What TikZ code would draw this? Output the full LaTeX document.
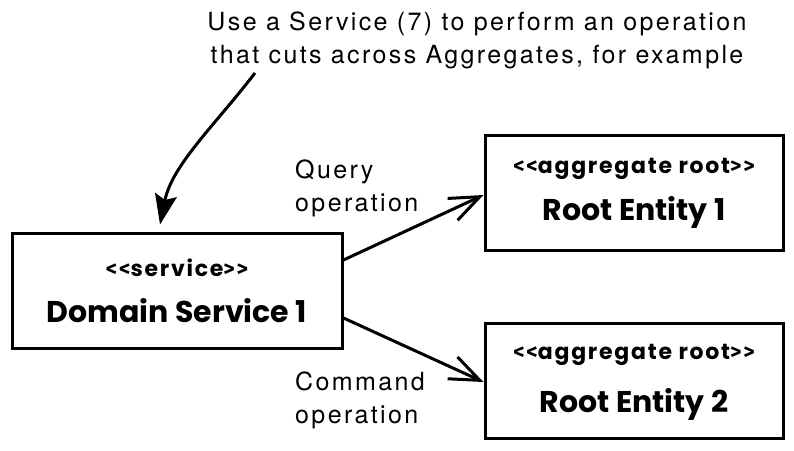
\documentclass[tikz,border=0pt]{standalone}
\usepackage{fontspec}
\setmainfont{TeX Gyre Heros}[LetterSpace=9.5]
\newfontfamily\comic{Poppins}
\newfontfamily\comicw{Poppins}[LetterSpace=8]
\newfontfamily\brk{Fira Sans}[LetterSpace=8]
\usetikzlibrary{arrows.meta}
\newcommand{\lt}{{\brk\bfseries<}}
\newcommand{\gt}{{\brk\bfseries>}}
\tikzset{
  box/.style={draw, line width=3pt, minimum width=#1, minimum height=115pt, inner sep=0pt, align=center},
  stereo/.style={font=\comicw\bfseries\fontsize{22}{24}\selectfont},
  big/.style={font=\comic\bfseries\fontsize{30}{36}\selectfont},
  lbl/.style={font=\fontsize{25}{33}\selectfont, align=left, inner sep=0pt, anchor=north west},
  conn/.style={line width=3pt, -{Straight Barb[length=30pt,width=24pt,line width=3pt]}},
  callout/.style={line width=3pt, -{Stealth[length=30pt,width=22pt,inset=5pt]}}
}
\begin{document}
\begin{tikzpicture}[x=1pt,y=-1pt]
\useasboundingbox (0,0) rectangle (794,450);
\node[box=330pt] (ds) at (177,290.5) {};
\node[box=298pt] (re1) at (634,192.5) {};
\node[box=298pt] (re2) at (634,380.5) {};
\node[stereo] (ds-s) at (177,268) {\lt\lt service\gt\gt};
\node[big, anchor=base] (ds-n) at (177,322) {Domain Service 1};
\node[stereo] (re1-s) at (634,169) {\lt\lt aggregate root\gt\gt};
\node[big, anchor=base] (re1-n) at (634,220) {Root Entity 1};
\node[stereo] (re2-s) at (634,355) {\lt\lt aggregate root\gt\gt};
\node[big, anchor=base] (re2-n) at (634,412) {Root Entity 2};
\node[lbl] (q) at (295,160) {Query\\operation};
\node[lbl] (c) at (295,372) {Command\\operation};
\node[font=\fontsize{25}{33}\selectfont, align=center, anchor=base] (top) at (477,63) {Use a Service (7) to perform an operation\\that cuts across Aggregates, for example};
\coordinate (cs) at (255,73);
\draw[conn] ([yshift=30.5pt]ds.east) -- ([yshift=-2.5pt]re1.west);
\draw[conn] ([yshift=-27.5pt]ds.east) -- ([yshift=-1.5pt]re2.west);
\draw[callout] (cs) .. controls (215,125) and (172,165) .. ([xshift=-17pt,yshift=7pt]ds.north);
\end{tikzpicture}
\end{document}
